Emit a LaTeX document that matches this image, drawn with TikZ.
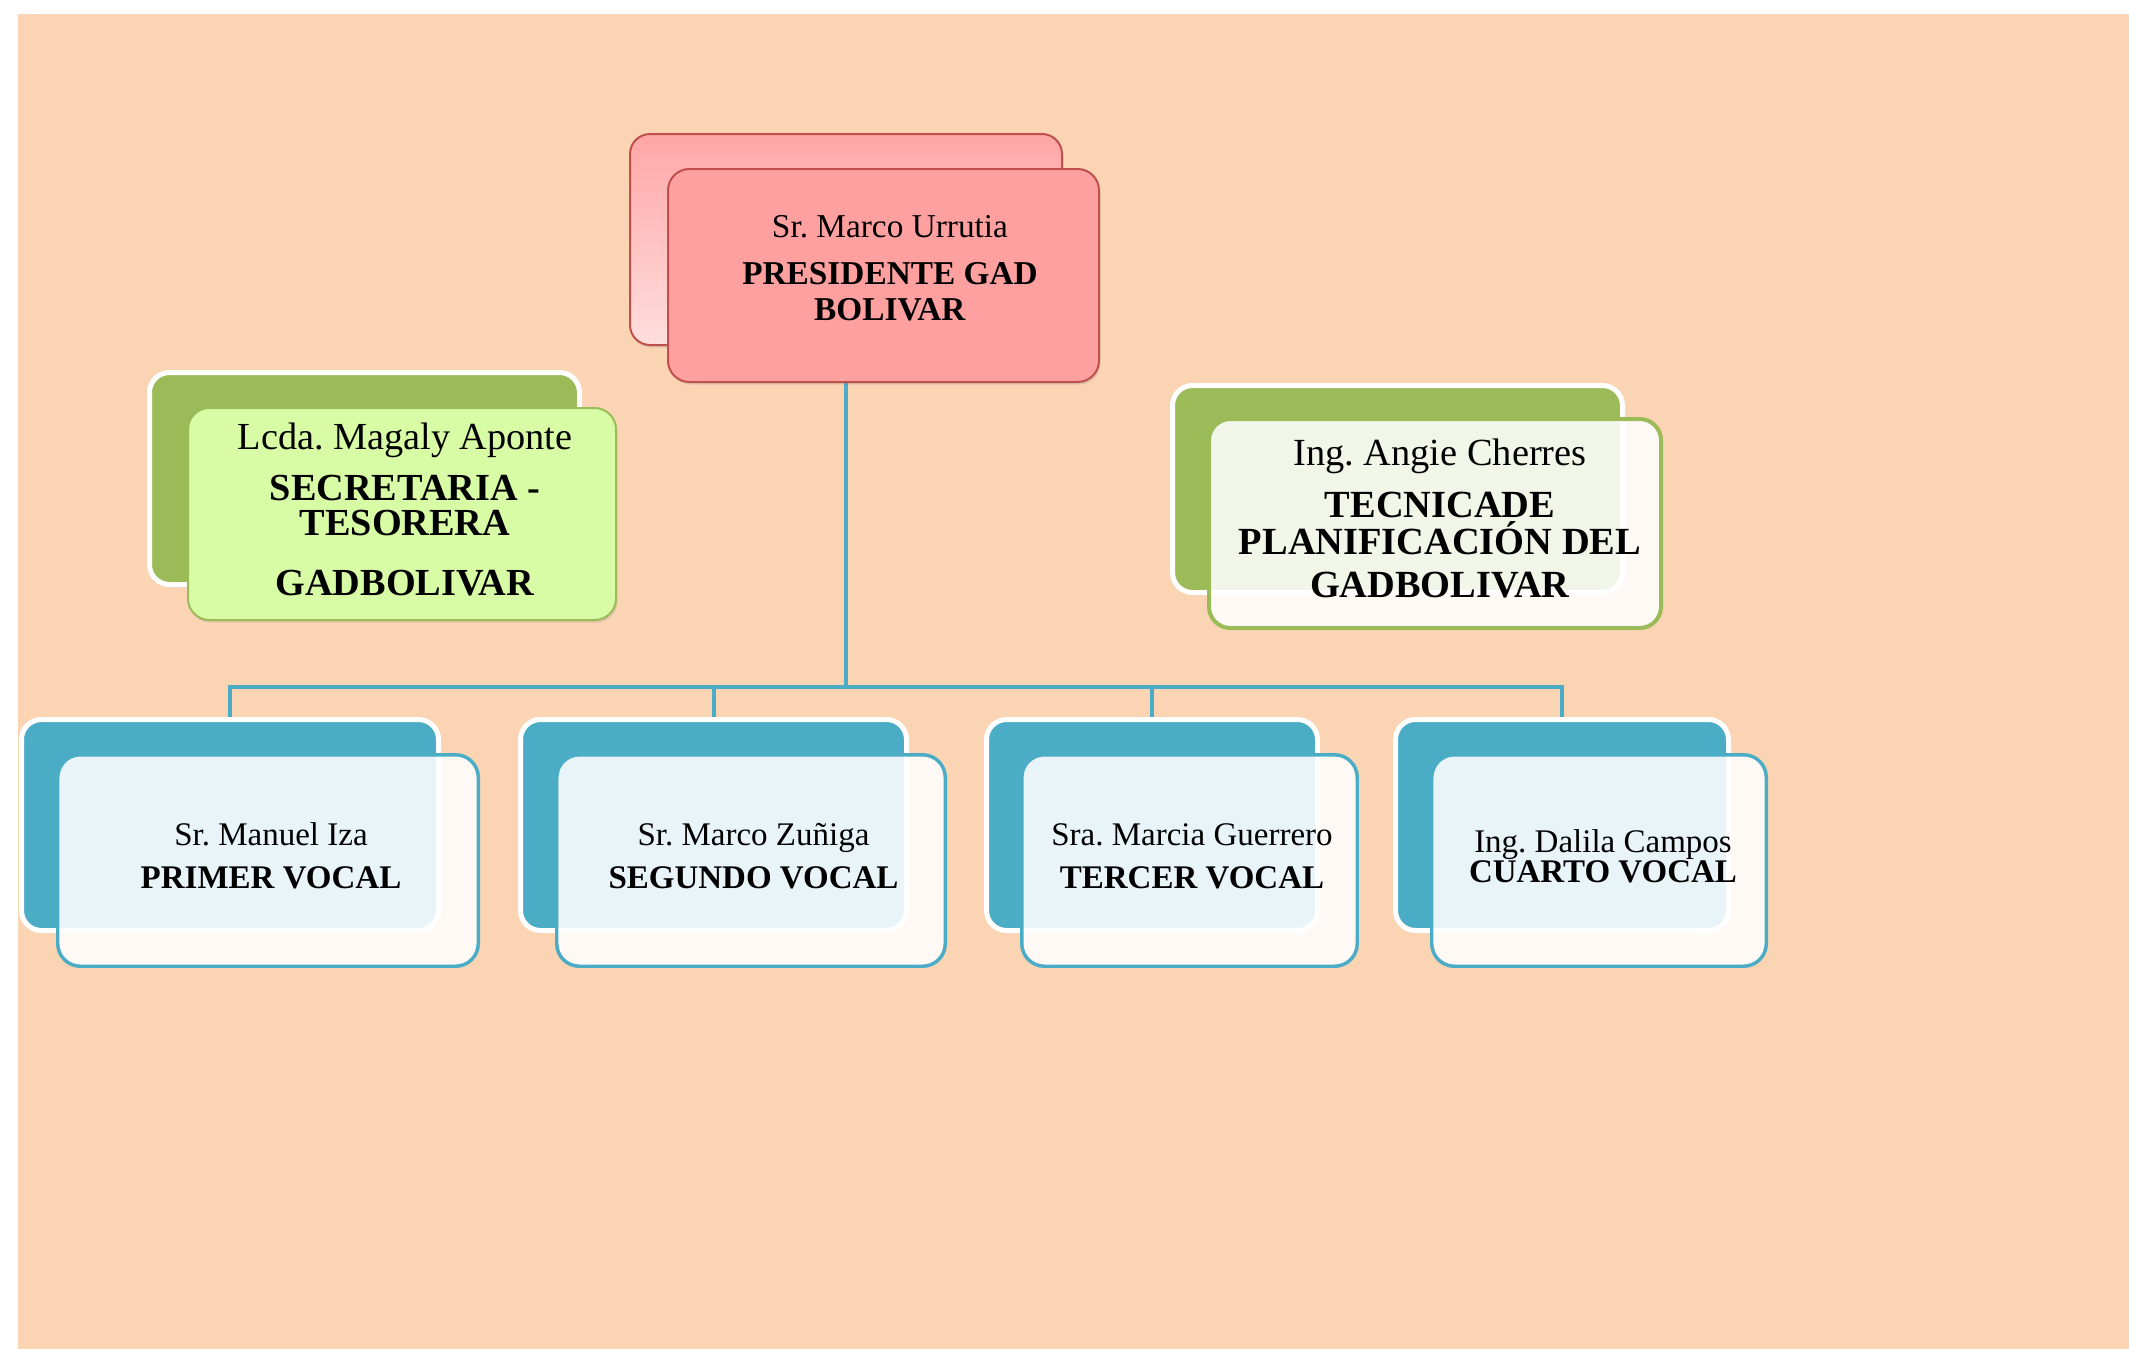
\documentclass[tikz,border=0pt]{standalone}
\usepackage{fontspec}
\setmainfont{Liberation Serif}
\usetikzlibrary{shadows}
\pgfdeclarelayer{background}
\pgfsetlayers{background,main}
\frenchspacing
\definecolor{peach}{HTML}{FBD4B4}
\definecolor{pinkedge}{HTML}{C0504D}
\definecolor{pinkfront}{HTML}{FFA0A0}
\definecolor{pinktop}{HTML}{FFA6A6}
\definecolor{pinkbot}{HTML}{FFDEDE}
\definecolor{olivegreen}{HTML}{9BBB59}
\definecolor{limefill}{HTML}{D8FBA5}
\definecolor{accblue}{HTML}{4BACC6}
\tikzset{
  softshadow/.style={drop shadow={opacity=0.22, shadow xshift=1pt, shadow yshift=-2pt}},
  pinkback/.style={rectangle, rounded corners=15pt, draw=pinkedge, line width=1.5pt,
    top color=pinktop, bottom color=pinkbot, softshadow},
  pinkfrontbox/.style={rectangle, rounded corners=16pt, draw=pinkedge, line width=1.5pt,
    fill=pinkfront, softshadow},
  greenback/.style={rectangle, rounded corners=15pt, draw=white, line width=3.75pt,
    fill=olivegreen, softshadow},
  limefront/.style={rectangle, rounded corners=16pt, draw=olivegreen, line width=1.5pt,
    fill=limefill, softshadow},
  paleolivefront/.style={rectangle, rounded corners=16pt, draw=olivegreen, line width=3pt,
    fill=white, fill opacity=0.87},
  blueback/.style={rectangle, rounded corners=15pt, draw=white, line width=3.75pt,
    fill=accblue, softshadow},
  bluefront/.style={rectangle, rounded corners=17pt, draw=accblue, line width=2.6pt,
    fill=white, fill opacity=0.88},
  txt/.style={align=center, inner sep=0pt, text=black},
  conn/.style={draw=accblue, line width=3pt}
}
\begin{document}
\begin{tikzpicture}[x=0.75pt, y=-0.75pt]
\useasboundingbox (0,0) rectangle (2129,1349);

% back shapes
\node[pinkback, minimum width=324pt, minimum height=158.25pt] (presback) at (846,239.5) {};
\node[blueback, minimum width=312.75pt, minimum height=158.25pt] (v1back) at (230,825) {};
\node[blueback, minimum width=289.5pt, minimum height=158.25pt] (v2back) at (713.5,825) {};
\node[blueback, minimum width=248.25pt, minimum height=158.25pt] (v3back) at (1152,825) {};
\node[blueback, minimum width=249.75pt, minimum height=158.25pt] (v4back) at (1562,825) {};

% page and connectors behind the boxes
\coordinate (bus) at (846,687);
\begin{pgfonlayer}{background}
\fill[white] (0,0) rectangle (2129,1349);
\fill[peach] (18,14) rectangle (2129,1349);
\draw[conn] (presback.south) -- (bus);
\draw[conn] (bus) -| (v1back.north);
\draw[conn] (bus) -| (v2back.north);
\draw[conn] (bus) -| (v3back.north);
\draw[conn] (bus) -| (v4back.north);
\end{pgfonlayer}

% president front
\node[pinkfrontbox, minimum width=323.25pt, minimum height=159.75pt] (presfront) at (883.5,275.5) {};
\node[txt, font=\fontsize{25pt}{27pt}\selectfont] (prestext) at (890,268)
  {Sr. Marco Urrutia\\[8.25pt]\textbf{PRESIDENTE GAD}\\\textbf{BOLIVAR}};

% secretary
\node[greenback, minimum width=322.5pt, minimum height=159pt] (secback) at (364.5,478.5) {};
\node[limefront, minimum width=321pt, minimum height=159pt] (secfront) at (402,514) {};
\node[txt, font=\fontsize{28.7pt}{26.25pt}\selectfont] (sectext) at (405,510)
  {Lcda. Magaly Aponte\\[12pt]\textbf{SECRETARIA -}\\\textbf{TESORERA}\\[18.75pt]\textbf{GADBOLIVAR}};

% tecnica
\node[greenback, minimum width=337.5pt, minimum height=155.25pt] (tecback) at (1397.5,489) {};
\node[paleolivefront, minimum width=339pt, minimum height=156.75pt] (tecfront) at (1435,523.5) {};
\node[txt, font=\fontsize{28.8pt}{27.75pt}\selectfont] (tectext) at (1440,518)
  {Ing. Angie Cherres\\[11.25pt]\textbf{TECNICADE}\\\textbf{PLANIFICACIÓN DEL}\\[4.5pt]\textbf{GADBOLIVAR}};

% vocal fronts
\node[bluefront, minimum width=315.4pt, minimum height=158.6pt] (v1front) at (268,860.5) {};
\node[bluefront, minimum width=291.4pt, minimum height=158.6pt] (v2front) at (751,860.5) {};
\node[bluefront, minimum width=251.6pt, minimum height=158.6pt] (v3front) at (1189.5,860.5) {};
\node[bluefront, minimum width=250.9pt, minimum height=158.6pt] (v4front) at (1599,860.5) {};

\node[txt, font=\fontsize{24.75pt}{32.25pt}\selectfont] (v1text) at (271,856)
  {Sr. Manuel Iza\\\textbf{PRIMER VOCAL}};
\node[txt, font=\fontsize{24.75pt}{32.25pt}\selectfont] (v2text) at (753.5,856)
  {Sr. Marco Zuñiga\\\textbf{SEGUNDO VOCAL}};
\node[txt, font=\fontsize{24.75pt}{32.25pt}\selectfont] (v3text) at (1192,856)
  {Sra. Marcia Guerrero\\\textbf{TERCER VOCAL}};
\node[txt, font=\fontsize{24.75pt}{22.5pt}\selectfont] (v4text) at (1603,856)
  {Ing. Dalila Campos\\\textbf{CUARTO VOCAL}};
\end{tikzpicture}
\end{document}
